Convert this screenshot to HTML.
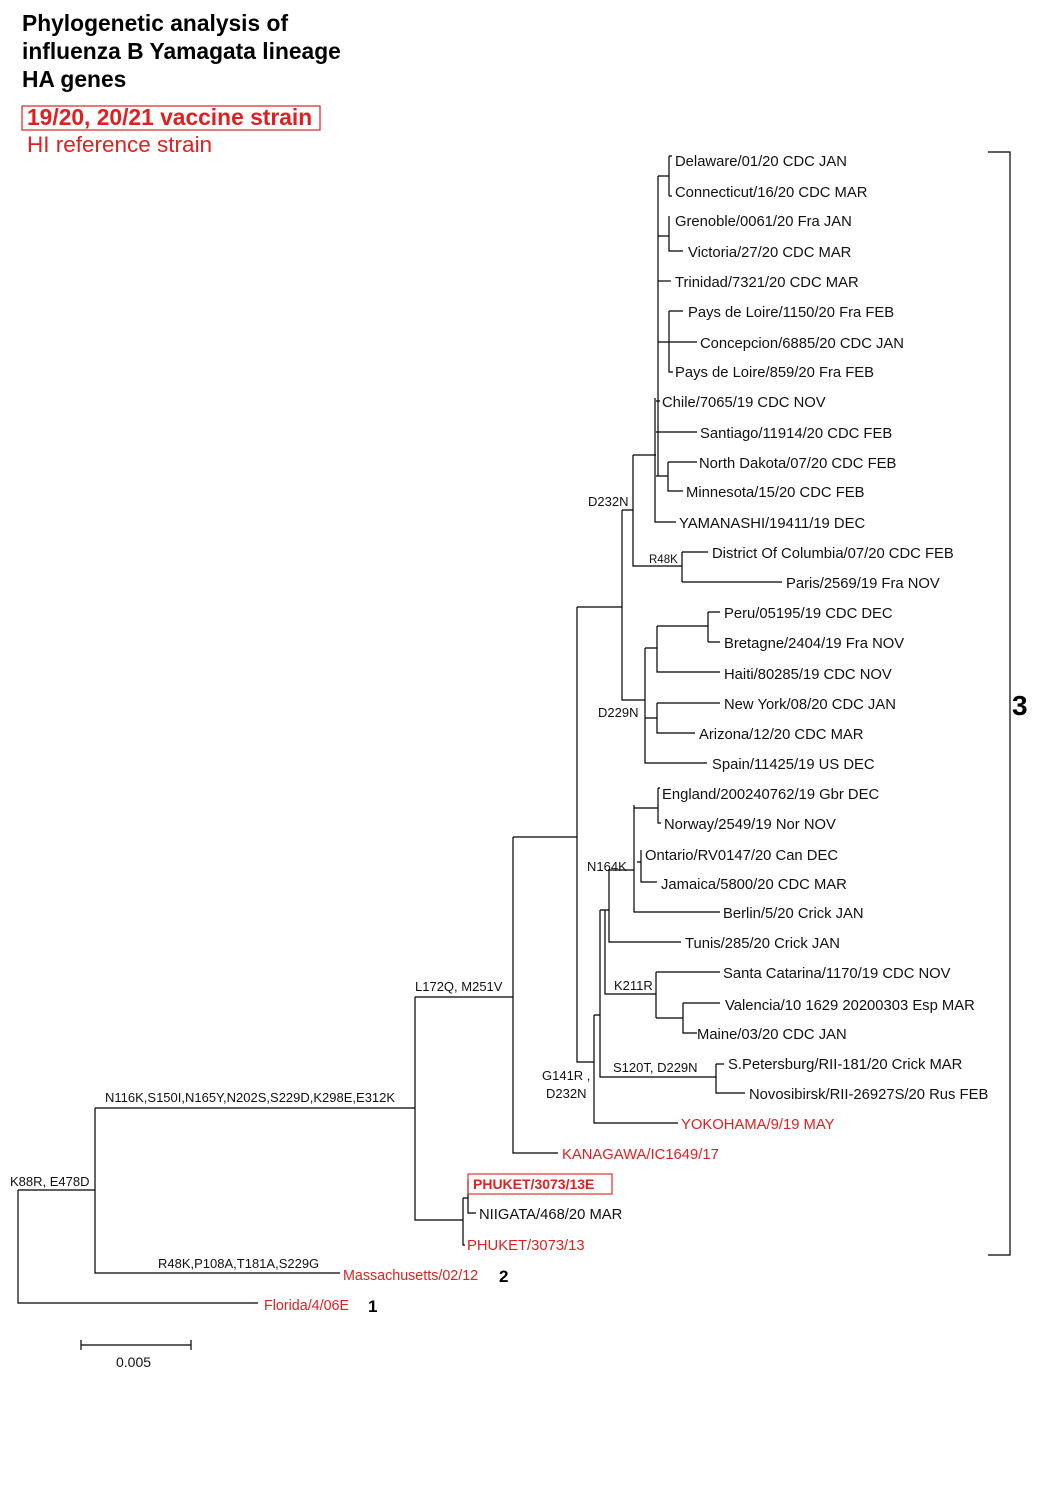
<!DOCTYPE html>
<html><head><meta charset="utf-8"><style>
body{margin:0;background:#fff;width:1040px;height:1502px;overflow:hidden}
svg{position:absolute;left:0;top:0}
text{font-family:"Liberation Sans",sans-serif}
.l{font-size:14.8px;fill:#111}
.r{font-size:14.8px;fill:#e02020}
.m{font-size:13px;fill:#111}
</style></head><body>
<svg width="1040" height="1502" viewBox="0 0 1040 1502">
<g font-weight="bold" font-size="22.8" fill="#000">
<text x="22" y="31">Phylogenetic analysis of</text>
<text x="22" y="59">influenza B Yamagata lineage</text>
<text x="22" y="87">HA genes</text>
</g>
<rect x="22" y="106" width="298" height="24" fill="none" stroke="#e02020" stroke-width="1.2"/>
<text x="27" y="125" font-weight="bold" font-size="22.8" fill="#e02020">19/20, 20/21 vaccine strain</text>
<text x="27" y="152" font-size="22.5" fill="#e02020">HI reference strain</text>

<g stroke="#000" stroke-width="1.2" fill="none">
<path d="M669 156V196M669 156H672M669 196H672M658 176H669"/>
<path d="M669 216V251H683M658 236H669"/>
<path d="M658 281H671"/>
<path d="M658 176V476"/>
<path d="M669 311V372H673M669 311H683M658 342H697"/>
<path d="M656 401H660M656 432H697"/>
<path d="M668 462V491H683M668 462H697M656 476H668"/>
<path d="M655 398V522H676"/>
<path d="M633 455H656M633 455V566H682M682 552V582M682 552H708M682 582H782"/>
<path d="M622 510H633M622 510V700H645"/>
<path d="M645 648V763H707M645 648H657M657 626V672H720M657 626H708M708 612V642M708 612H720M708 642H720"/>
<path d="M645 718H657M657 703V733H695M657 703H720"/>
<path d="M577 607H622M577 607V1062H594"/>
<path d="M658 788V823H661M658 788H660M634 808H658"/>
<path d="M641 850V882H657M637 862H641"/>
<path d="M634 805V912H720M608 870H634"/>
<path d="M609 870V942H681"/>
<path d="M605 910V994H656M656 972V1018M656 972H720M656 1018H683M683 1003V1033H697M683 1003H720"/>
<path d="M600 910H609M600 910V1077H716M716 1064V1093H745M716 1064H724"/>
<path d="M594 1015H600M594 1015V1123H678"/>
<path d="M513 837H577M513 837V1153H558"/>
<path d="M415 997H513M415 997V1220H463"/>
<path d="M463 1198V1245H465M463 1198H468M468 1180V1213H476"/>
<path d="M95 1108H415M95 1108V1273H340"/>
<path d="M18 1190H95M18 1190V1303H258"/>
<path d="M988 152H1010V1255H988"/>
<path d="M81 1345H191M81 1340V1350M191 1340V1350"/>
</g>

<g class="l">
<text x="675" y="166">Delaware/01/20 CDC JAN</text>
<text x="675" y="197">Connecticut/16/20 CDC MAR</text>
<text x="675" y="226">Grenoble/0061/20 Fra JAN</text>
<text x="688" y="257">Victoria/27/20 CDC MAR</text>
<text x="675" y="287">Trinidad/7321/20 CDC MAR</text>
<text x="688" y="317">Pays de Loire/1150/20 Fra FEB</text>
<text x="700" y="348">Concepcion/6885/20 CDC JAN</text>
<text x="675" y="377">Pays de Loire/859/20 Fra FEB</text>
<text x="662" y="407">Chile/7065/19 CDC NOV</text>
<text x="700" y="438">Santiago/11914/20 CDC FEB</text>
<text x="699" y="468">North Dakota/07/20 CDC FEB</text>
<text x="686" y="497">Minnesota/15/20 CDC FEB</text>
<text x="679" y="528">YAMANASHI/19411/19 DEC</text>
<text x="712" y="558">District Of Columbia/07/20 CDC FEB</text>
<text x="786" y="588">Paris/2569/19 Fra NOV</text>
<text x="724" y="618">Peru/05195/19 CDC DEC</text>
<text x="724" y="648">Bretagne/2404/19 Fra NOV</text>
<text x="724" y="679">Haiti/80285/19 CDC NOV</text>
<text x="724" y="709">New York/08/20 CDC JAN</text>
<text x="699" y="739">Arizona/12/20 CDC MAR</text>
<text x="712" y="769">Spain/11425/19 US DEC</text>
<text x="662" y="799">England/200240762/19 Gbr DEC</text>
<text x="664" y="829">Norway/2549/19 Nor NOV</text>
<text x="645" y="860">Ontario/RV0147/20 Can DEC</text>
<text x="661" y="889">Jamaica/5800/20 CDC MAR</text>
<text x="723" y="918">Berlin/5/20 Crick JAN</text>
<text x="685" y="948">Tunis/285/20 Crick JAN</text>
<text x="723" y="978">Santa Catarina/1170/19 CDC NOV</text>
<text x="725" y="1010">Valencia/10 1629 20200303 Esp MAR</text>
<text x="697" y="1039">Maine/03/20 CDC JAN</text>
<text x="728" y="1069">S.Petersburg/RII-181/20 Crick MAR</text>
<text x="749" y="1099">Novosibirsk/RII-26927S/20 Rus FEB</text>
<text x="479" y="1219">NIIGATA/468/20 MAR</text>
</g>
<g class="r">
<text x="681" y="1129">YOKOHAMA/9/19 MAY</text>
<text x="562" y="1159">KANAGAWA/IC1649/17</text>
<text x="467" y="1250">PHUKET/3073/13</text>
<text x="343" y="1280" font-size="14.3">Massachusetts/02/12</text>
<text x="264" y="1310" font-size="14.3">Florida/4/06E</text>
</g>
<rect x="468" y="1174" width="144" height="20" fill="none" stroke="#e02020" stroke-width="1.1"/>
<text x="473" y="1189" font-size="14" font-weight="bold" fill="#e02020">PHUKET/3073/13E</text>
<g class="m">
<text x="588" y="506">D232N</text>
<text x="649" y="563" font-size="11.5">R48K</text>
<text x="598" y="717">D229N</text>
<text x="587" y="871">N164K</text>
<text x="614" y="990">K211R</text>
<text x="613" y="1072">S120T, D229N</text>
<text x="542" y="1080">G141R ,</text>
<text x="546" y="1098">D232N</text>
<text x="415" y="991">L172Q, M251V</text>
<text x="105" y="1102">N116K,S150I,N165Y,N202S,S229D,K298E,E312K</text>
<text x="158" y="1268">R48K,P108A,T181A,S229G</text>
<text x="10" y="1186">K88R, E478D</text>
<text x="116" y="1367" font-size="14">0.005</text>
</g>
<text x="1012" y="715" font-size="28" font-weight="bold">3</text>
<text x="499" y="1282" font-size="17" font-weight="bold">2</text>
<text x="368" y="1312" font-size="17" font-weight="bold">1</text>
</svg>
</body></html>
